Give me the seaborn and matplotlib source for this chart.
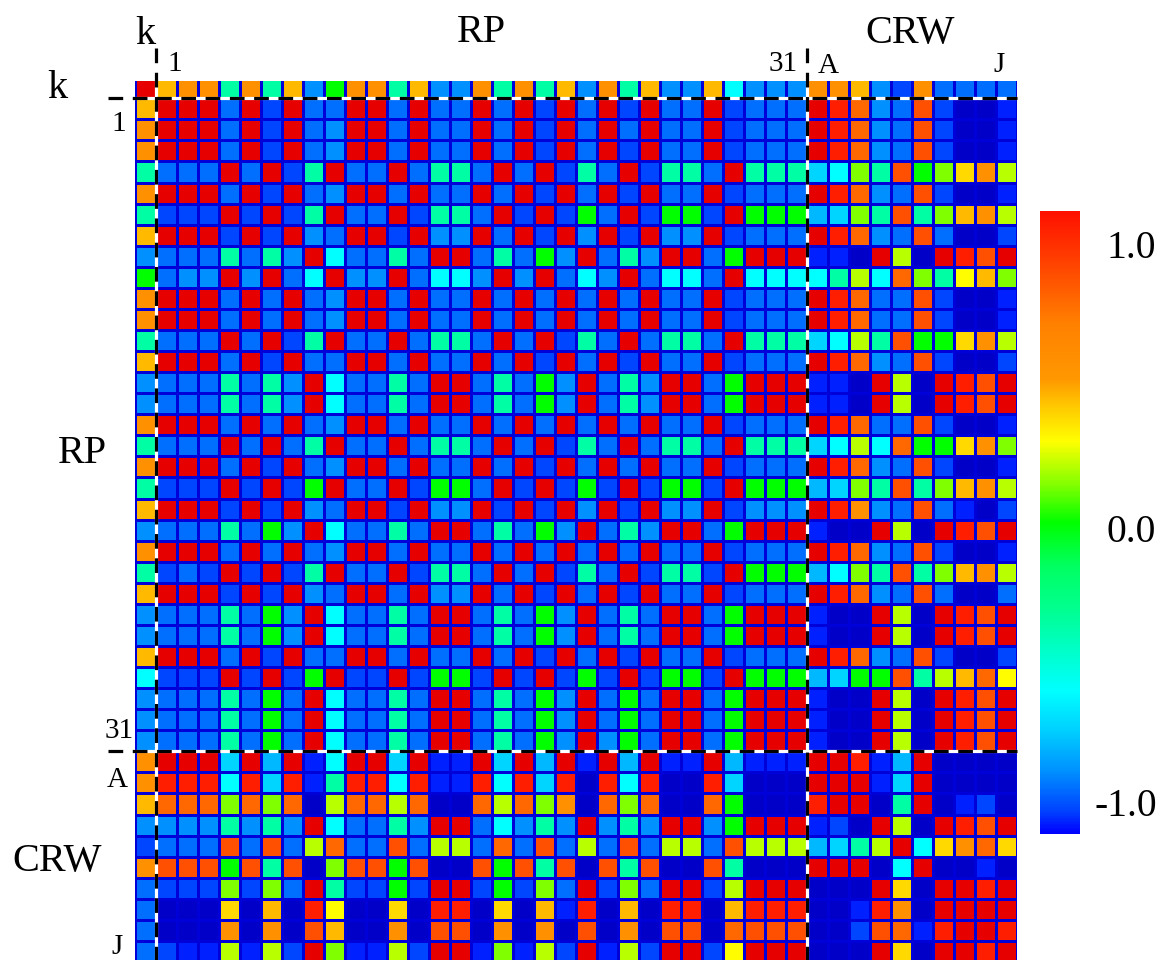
import numpy as np
import pandas as pd
import matplotlib
matplotlib.use('Agg')
import matplotlib.pyplot as plt
import seaborn as sns
from matplotlib.colors import LinearSegmentedColormap

W, H = 1161, 960

# colour levels -> correlation value
levels = {
    'R': 1.2, 'r': 1.04, 'n': 0.87, 'o': 0.79, 'O': 0.57, 'a': 0.44, 'd': 0.37,
    'y': 0.29, 'l': 0.2, 'g': 0.13, 'G': 0.0, 'S': -0.36, 'c': -0.59, 'C': -0.72,
    'e': -0.79, 'b': -0.88, 'B': -0.94, 'D': -1.01, 'x': -1.06, 'U': -1.2,
}

# one row per type: k column | RP 1-31 | CRW A-J
rows = [
    'R aOOSOSabGOOSabbOSOSabOSabbacbbb OOabDOBBBB',
    'a RRRBRDRBBRRBRBBRBRDRBRDRBBRDBBB RrobBnDUUx',
    'O RRRBRDRBbRRBRBBRBRDRBRBRBBRDBBB RrobBnDUUx',
    'O RRRBRDRBbRRBRBBRBRDRBRDRBBRDBBB RrobBnDUUx',
    'S BBBRBRDSRBBRBSSBRBRDSBRDSSBRSSS CcgSnGgdOl',
    'O RRRBRDRBbRRBRBBRBRDRBRDRBBRDBBB RrobBnDUUx',
    'S DDDRDRDSRBBRDSSBRDRDGBRDGGDRGGG eCgSnSgaOl',
    'a RRRDRDRbBRRDRbbRBRDRbRDRbbRDBBB RrobBnBUUD',
    'b BBBSBSbRcBBSBRRBSBGbRBSbRRBGRRR xxURlURrnR',
    'G BbbRbRBcRbbRBccbRbRBcbRBccBRccc cSlcogSyag',
    'O RRRBRBRBbRRBRBBRBRBRBRBRBBRDBBB RroBBnDUUx',
    'O RRRBRBRBbRRBRBBRBRBRBRBRBBRDBBB RroBBnDUUx',
    'S BBBRBRDSRBBRBSSBRBRDSBRBSSBRSSS CclSnGGdOl',
    'a RRRBRDRBBRRBRBBRBRDRBRDRBBRDBBB RrobBnDUUD',
    'b BBBSBSbRcBBSBRRBSBGbRBSbRRBGRRR xxURlURrnR',
    'b BBBSBSbRcBBSBRRBSBGbRBSbRRBGRRR xxURlURrnR',
    'O RRRBRBRBbRRBRBBRBRBRBRBRBBRDBBB RroBBnDUUx',
    'S BBBRBRBSRBBRBSSBRBRDSBRBSSBRSSS CclcoGGdOg',
    'O RRRBRDRBbRRBRBBRBRDRBRBRBBRDBBB RrobBnDUUx',
    'S DDDRDRDGRBBRDGGBRDRDGDRDGGDRGGG eCgSnSgaOl',
    'a RRRDRDRbBRRDRbbRDRDRbRDRbbRDbbb RrObBnBxUD',
    'b BBBSBGbRcBBSBRRBSBGbRBSbRRBGRRR xUURlURrnR',
    'O RRRBRBRBbRRBRBBRBRBRBRBRBBRDBBB RrobBnDUUx',
    'S DBDRDRDSRBBRDSSBRBRDSBRDSSDRGGG ecgSnSgaOl',
    'a RRRDRDRbBRRBRbbRBRDRBRDRBBRDBBB RrobBnBUUB',
    'b BBBSBGbRcBBSBRRBSBGbRBSBRRBGRRR xUURlURrnR',
    'b BBBSBGbRcBBSBRRBSBGbRBSBRRBGRRR xUURlURrnR',
    'a RRRBRDRBBRRBRBBRBRDRBRDRBBRDBBB RrobBnDUUD',
    'c DDDRDRDGRDDRDGGDRDRDGDRDGGDRGGG eCGGnSlaoy',
    'b BBBSBGBRcBBSBRRBSBGbRBGBRRBGRRR xUURlURrnR',
    'b BBBSBGBRcBBSBRRBSBGbRBGBRRBGRRR xUURlURrnR',
    'b BBBSBGBRcBBSBRRBSBGbRbGBRRBGRRR xUURlURrnR',
    'O RRRCReRxcRRCRxxRCReRxReRxxRexxx RRrxeRUUUU',
    'O rrrcrCrxSrrcrxxrcrCrUrcrUUrCUUU RRRxCRUUUU',
    'a ooogogoUlooloUUologOUogoUUoGUUU rRRUSRUxDU',
    'b bbbSbSbRcBBSbRRBcbSbRbSbRRbGRRR xDURlURrnR',
    'D BBBnBnBloBBnBllBoBnBlBnBllBnlll eCSlRcdOod',
    'O nnnGnSnUgnnGnUUnGnSnUnSnUUnSUUU RRRUcRUUxU',
    'B DDDgDgBRSDDGDRRDGDgBRDgBRRDlRRR UUURdURRrR',
    'B UUUdUaUryUUdUrrUdUaxrUaUrrUarrr UUxrOURRRR',
    'B UUUOUOUnaUUOUnnUOUOUnUOUnnUonnn UUDnoxrRRr',
    'B DxxlxlDRgxxlDRRxgxlDRxlDRRDyRRR UUURdURRrR',
]

names = ['k'] + [f'RP{i}' for i in range(1, 32)] + [f'CRW{c}' for c in 'ABCDEFGHIJ']
matrix = [[levels[c] for c in r.replace(' ', '')] for r in rows]
df = pd.DataFrame(matrix, index=names, columns=names)

stops = [(0, '#0000ff'), (0.035, '#0040ff'), (0.10, '#0090ff'), (0.166, '#00d0ff'),
         (0.23, '#00ffff'), (0.36, '#00ff90'), (0.43, '#00ff60'), (0.5, '#00ff00'),
         (0.56, '#80ff00'), (0.63, '#ffff00'), (0.695, '#ffc000'), (0.73, '#ff9800'),
         (0.82, '#ff8000'), (0.92, '#ff4000'), (1, '#ff1000')]
cmap = LinearSegmentedColormap.from_list('corr', stops, N=512)
cmap.set_under('#0000c8')
cmap.set_over('#e60000')


def box(x0, y0, x1, y1):
    return [x0 / W, 1 - y1 / H, (x1 - x0) / W, (y1 - y0) / H]


fig = plt.figure(figsize=(W / 100, H / 100), dpi=100)
ax = fig.add_axes(box(134.7, 81, 1017, 962))
cax = fig.add_axes(box(1040, 211, 1080, 834))

sns.heatmap(df, ax=ax, cbar_ax=cax, cmap=cmap, vmin=-1.1, vmax=1.1,
            linewidths=1.0, linecolor='#0000d8',
            xticklabels=False, yticklabels=False, cbar_kws={'ticks': []})
ax.set_xlabel('')
ax.set_ylabel('')
# top row is cut short in the original
ax.set_ylim(42, 0.18)
ax.collections[0].colorbar.outline.set_visible(False)

# block separators
for pos in (1, 32):
    for color, style in (('white', '-'), ('black', (0, (4.6, 3.0)))):
        ax.plot([-1.28, 42], [pos, pos], color=color, lw=2.3, ls=style, clip_on=False)
        ax.plot([pos, pos], [-1.38, 42], color=color, lw=2.3, ls=style, clip_on=False)

labels = [
    ('k', 145, 35, 29), ('RP', 481, 32, 29), ('CRW', 910, 33, 29),
    ('1', 175, 64, 21), ('31', 783, 64, 21), ('A', 828, 66, 21), ('J', 999, 65, 21),
    ('k', 57, 88, 29), ('1', 119, 124, 21), ('RP', 82, 453, 29), ('31', 119, 731, 21),
    ('A', 117, 780, 21), ('CRW', 57, 862, 29), ('J', 117, 947, 21),
    ('1.0', 1131, 248, 28.5), ('0.0', 1131, 533, 28.5), ('-1.0', 1126, 806, 28.5),
]
for text, x, y, size in labels:
    fig.text(x / W, 1 - y / H, text, ha='center', va='center',
             fontsize=size, family='Liberation Serif', color='black')

fig.savefig('out.png', dpi=100, facecolor='white')
